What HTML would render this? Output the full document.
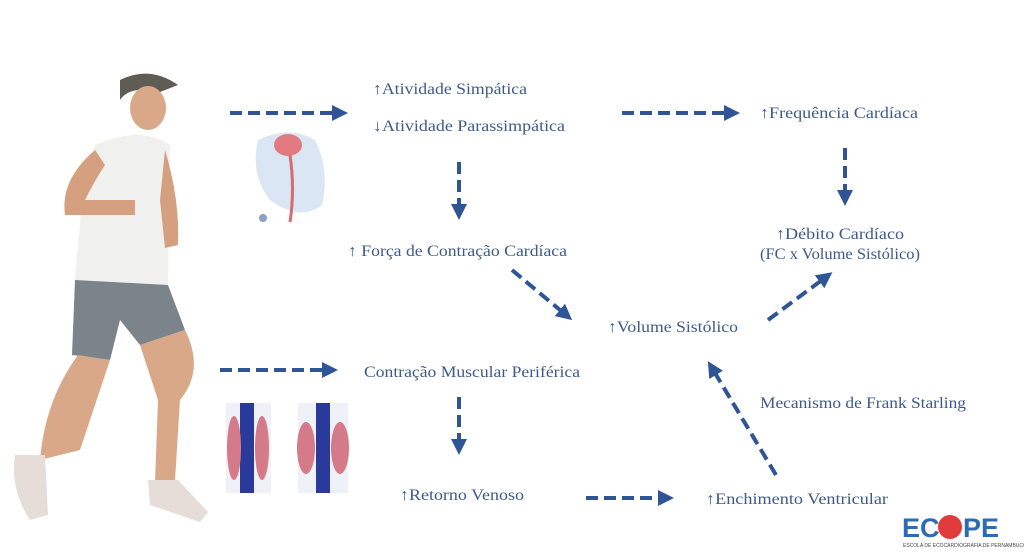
<!DOCTYPE html>
<html><head><meta charset="utf-8"><style>
body{margin:0;background:#fff;}
svg{display:block}
text{font-family:"Liberation Serif",serif;font-size:16px;fill:#3d5a88;}
</style></head><body>
<svg width="1024" height="552" viewBox="0 0 1024 552">
<defs><marker id="a" viewBox="0 0 10 10" refX="5" refY="5" markerWidth="4" markerHeight="4" orient="auto"><path d="M0,0L10,5L0,10z" fill="#2f5597"/></marker></defs>
<g stroke="#2f5597" stroke-width="4" stroke-dasharray="12,6" fill="none" marker-end="url(#a)">
<line x1="230" y1="113" x2="340" y2="113"/>
<line x1="622" y1="113" x2="732" y2="113"/>
<line x1="459" y1="162" x2="459" y2="212"/>
<line x1="845" y1="148" x2="845" y2="198"/>
<line x1="512" y1="270" x2="566" y2="315"/>
<line x1="768" y1="320" x2="826" y2="277"/>
<line x1="220" y1="370" x2="330" y2="370"/>
<line x1="459" y1="397" x2="459" y2="447"/>
<line x1="586" y1="498" x2="666" y2="498"/>
<line x1="776" y1="475" x2="712" y2="368"/>
</g>
<text x="373" y="94" textLength="154" lengthAdjust="spacingAndGlyphs">↑Atividade Simpática</text>
<text x="373" y="131" textLength="192" lengthAdjust="spacingAndGlyphs">↓Atividade Parassimpática</text>
<text x="760" y="118" textLength="158" lengthAdjust="spacingAndGlyphs">↑Frequência Cardíaca</text>
<text x="348" y="256" textLength="219" lengthAdjust="spacingAndGlyphs">↑ Força de Contração Cardíaca</text>
<text x="776" y="239" textLength="128" lengthAdjust="spacingAndGlyphs">↑Débito Cardíaco</text>
<text x="760" y="259" textLength="160" lengthAdjust="spacingAndGlyphs">(FC x Volume Sistólico)</text>
<text x="608" y="332" textLength="130" lengthAdjust="spacingAndGlyphs">↑Volume Sistólico</text>
<text x="364" y="377" textLength="216" lengthAdjust="spacingAndGlyphs">Contração Muscular Periférica</text>
<text x="760" y="408" textLength="206" lengthAdjust="spacingAndGlyphs">Mecanismo de Frank Starling</text>
<text x="400" y="500" textLength="124" lengthAdjust="spacingAndGlyphs">↑Retorno Venoso</text>
<text x="706" y="504" textLength="182" lengthAdjust="spacingAndGlyphs">↑Enchimento Ventricular</text>
<path d="M258,140 Q290,125 315,140 Q330,170 322,205 Q300,222 270,200 Q250,175 258,140z" fill="#dbe6f5"/>
<ellipse cx="288" cy="145" rx="14" ry="11" fill="#e07a80"/>
<path d="M290,155 Q295,190 290,222" stroke="#d86a72" stroke-width="3" fill="none"/>
<circle cx="263" cy="218" r="4" fill="#8da0c8"/>
<rect x="226" y="403" width="45" height="90" fill="#eef1f7"/>
<rect x="240" y="403" width="14" height="90" fill="#2a3a9a"/>
<ellipse cx="234" cy="448" rx="7" ry="32" fill="#d57a88"/>
<ellipse cx="262" cy="448" rx="7" ry="32" fill="#d57a88"/>
<rect x="298" y="403" width="50" height="90" fill="#eef1f7"/>
<rect x="316" y="403" width="14" height="90" fill="#2a3a9a"/>
<ellipse cx="306" cy="448" rx="9" ry="26" fill="#d57a88"/>
<ellipse cx="340" cy="448" rx="9" ry="26" fill="#d57a88"/>
<g>
<path d="M120,80 Q150,65 178,85 L160,92 Q130,85 120,100z" fill="#5d5d55"/>
<ellipse cx="148" cy="108" rx="18" ry="22" fill="#d9a888"/>
<path d="M95,145 Q140,125 170,145 L168,285 Q120,295 75,280 Q80,200 95,145z" fill="#f0f0ee"/>
<path d="M75,280 L168,285 L185,330 L140,345 L120,320 L110,360 L72,355z" fill="#7a848a"/>
<path d="M95,150 Q60,180 65,215 L135,215 L135,200 L85,200 Q95,180 105,165z" fill="#d4a080"/>
<path d="M165,150 Q180,200 178,245 L165,248 L160,200z" fill="#d4a080"/>
<path d="M78,355 L110,360 L80,450 L40,460 Q45,400 78,355z" fill="#d9a888"/>
<path d="M140,345 L185,330 Q205,370 180,400 L175,480 L155,482 L158,400z" fill="#d9a888"/>
<path d="M15,455 L45,455 L48,515 L30,520 Q10,490 15,455z" fill="#e6dcd8"/>
<path d="M148,480 L178,480 L208,512 L200,522 L150,505z" fill="#e6dcd8"/>
</g>
<text x="902" y="537" style="font-family:'Liberation Sans',sans-serif;font-weight:bold;font-size:27px;fill:#2e6bb5">EC</text>
<circle cx="950" cy="527" r="12" fill="#e03a3a"/>
<text x="963" y="537" style="font-family:'Liberation Sans',sans-serif;font-weight:bold;font-size:27px;fill:#2e6bb5">PE</text>
<text x="903" y="547" style="font-family:'Liberation Sans',sans-serif;font-size:5px;fill:#444">ESCOLA DE ECOCARDIOGRAFIA DE PERNAMBUCO</text>
</svg>
</body></html>
